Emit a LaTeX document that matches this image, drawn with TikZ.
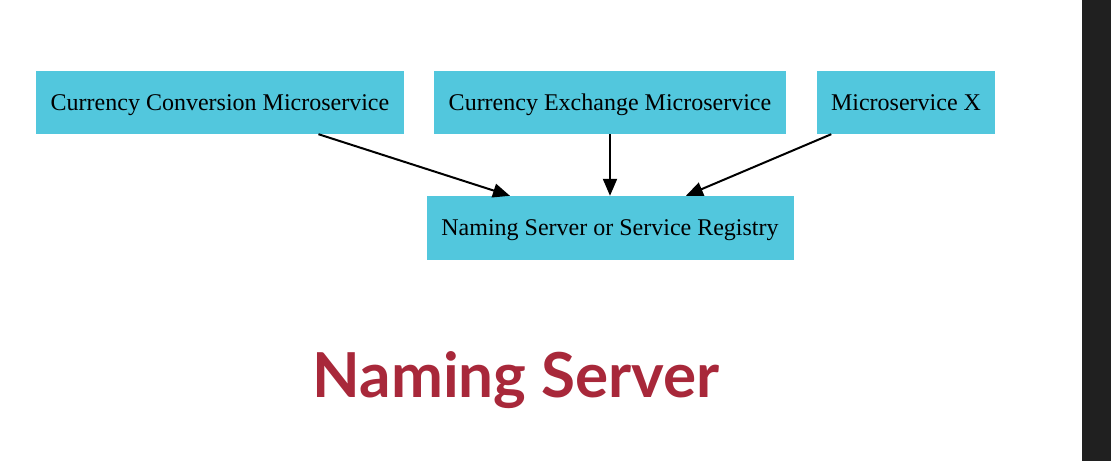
\documentclass[tikz,border=0pt]{standalone}
\usepackage{fontspec}
\setmainfont{Liberation Serif}
\newfontfamily\titlefont{Lato}
\usepackage{tikz}
\usetikzlibrary{positioning,arrows.meta}
\definecolor{boxblue}{HTML}{52C7DD}
\definecolor{titlered}{HTML}{A8283A}
\definecolor{barblack}{HTML}{202020}

\begin{document}
\begin{tikzpicture}[x=1pt,y=-1pt,>={Triangle[length=17pt,width=14pt]},
  service/.style={fill=boxblue,minimum height=63pt,inner sep=0pt,text depth=0pt,font=\fontsize{24}{28}\selectfont}]
  \useasboundingbox (0,0) rectangle (1111,461);
  \fill[barblack] (1082,0) rectangle (1111,461);
  \node[service,minimum width=368pt] (conv) at (220,102.5) {Currency Conversion Microservice};
  \node[service,minimum width=352pt] (exch) at (610,102.5) {Currency Exchange Microservice};
  \node[service,minimum width=178pt] (msx) at (906,102.5) {Microservice X};
  \node[service,minimum width=367pt,minimum height=64pt] (reg) at (610,228) {Naming Server or Service Registry};
  \path[->,line width=2pt]
  (conv) edge (reg)
  (exch) edge (reg)
  (msx) edge (reg)
  ;
  \node[font=\titlefont\bfseries\fontsize{62}{70}\selectfont,text=titlered,anchor=base] (title) at (516,397) {Naming Server};
\end{tikzpicture}
\end{document}
